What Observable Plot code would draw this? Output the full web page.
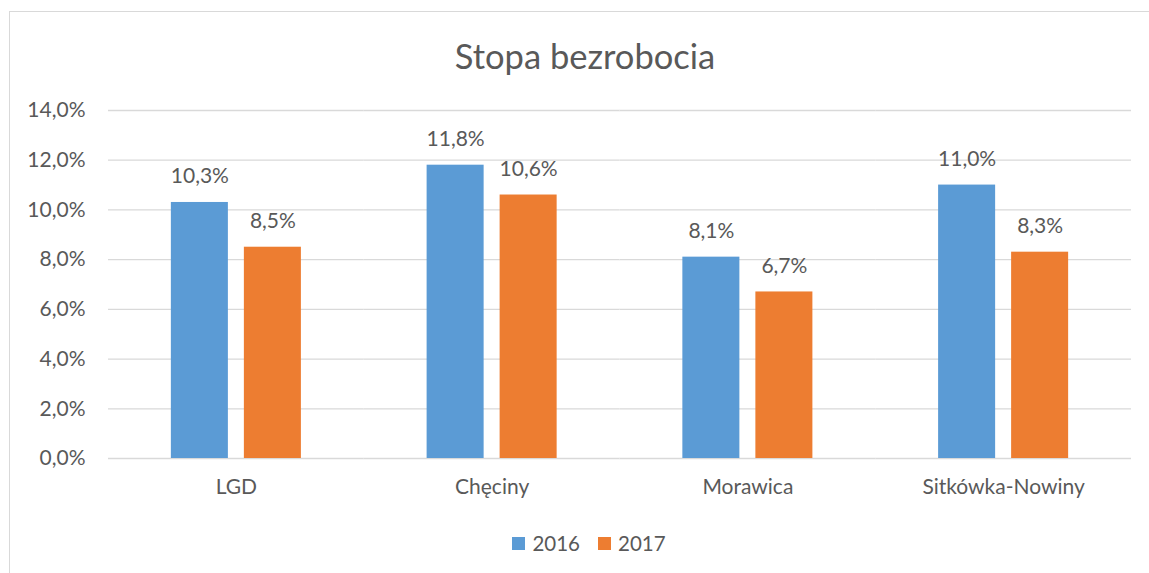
<!DOCTYPE html>
<html>
<head>
<meta charset="utf-8">
<script src="https://cdn.jsdelivr.net/npm/d3@7"></script>
<script src="https://cdn.jsdelivr.net/npm/@observablehq/plot@0.6"></script>
<style>
  html, body { margin: 0; padding: 0; background: #fff; overflow: hidden; }
  #chart { position: relative; width: 1149px; height: 573px; overflow: hidden; font-family: Lato, "Open Sans", sans-serif; color: #595959; }
  #frame { position: absolute; left: 9px; top: 11px; width: 1200px; height: 620px; border: 1px solid #d9d9d9; box-sizing: border-box; }
  #plot { position: absolute; left: 0; top: 0; }
  #title { position: absolute; left: 0; width: 1170px; top: 34px; text-align: center; font-size: 34.5px; line-height: 44px; }
  #legend { position: absolute; left: 0; width: 1178px; top: 531px; display: flex; justify-content: center; align-items: center; font-size: 20.5px; line-height: 24px; }
  .item { display: flex; align-items: center; margin: 0 9px; }
  .sw { width: 13px; height: 13px; margin-right: 7px; }
</style>
</head>
<body>
<div id="chart">
  <div id="frame"></div>
  <div id="plot"></div>
  <div id="title">Stopa bezrobocia</div>
  <div id="legend"></div>
</div>
<script>
const categories = ["LGD", "Chęciny", "Morawica", "Sitkówka-Nowiny"];
const years = ["2016", "2017"];
const values2016 = [10.3, 11.8, 8.1, 11.0];
const values2017 = [8.5, 10.6, 6.7, 8.3];
const yTicks = [0, 2, 4, 6, 8, 10, 12, 14];
const colors = ["#5B9BD5", "#ED7D31"];

const pl = d3.formatLocale({decimal: ",", thousands: "\u00a0", grouping: [3], currency: ["", " zł"]});
const fmt = pl.format(".1%");

const data = categories.flatMap((c, i) => [
  {cat: c, year: years[0], value: values2016[i] / 100},
  {cat: c, year: years[1], value: values2017[i] / 100}
]);
const ticks = yTicks.map(v => v / 100);

const chart = Plot.plot({
  width: 1149,
  height: 573,
  marginLeft: 108,
  marginRight: 18,
  marginTop: 110,
  marginBottom: 115,
  style: {background: "transparent", fontFamily: "Lato, 'Open Sans', sans-serif", fontSize: "21px", color: "#595959"},
  fx: {domain: categories, padding: 0, round: false},
  x: {domain: years, paddingInner: 0.219, paddingOuter: 0.861, round: false},
  y: {domain: [0, 0.14]},
  color: {domain: years, range: colors},
  marks: [
    Plot.gridY(ticks, {stroke: "#d9d9d9", strokeOpacity: 1, strokeWidth: 1.3}),
    Plot.axisY(ticks, {tickFormat: fmt, tickSize: 0, tickPadding: 23, label: null, fill: "#595959"}),
    Plot.axisFx({tickSize: 0, tickPadding: 21, label: null, anchor: "bottom", fill: "#595959"}),
    Plot.axisX({ticks: [], label: null, tickSize: 0}),
    Plot.barY(data, {fx: "cat", x: "year", y: "value", fill: "year"}),
    Plot.text(data, {fx: "cat", x: "year", y: "value", text: d => fmt(d.value), dy: -26, fill: "#595959"})
  ]
});
document.getElementById("plot").appendChild(chart);

const legend = document.getElementById("legend");
years.forEach((y, i) => {
  const it = document.createElement("div");
  it.className = "item";
  const sw = document.createElement("div");
  sw.className = "sw";
  sw.style.background = colors[i];
  const t = document.createElement("span");
  t.textContent = y;
  it.appendChild(sw);
  it.appendChild(t);
  legend.appendChild(it);
});
</script>
</body>
</html>
